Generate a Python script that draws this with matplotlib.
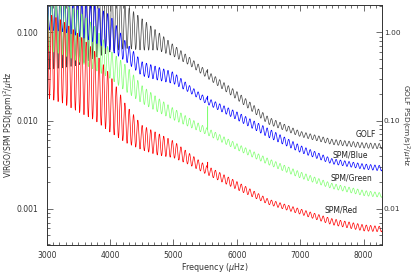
import numpy as np
import matplotlib
matplotlib.use("Agg")
import matplotlib.pyplot as plt
from matplotlib.ticker import FixedLocator, FixedFormatter, LogLocator, NullFormatter, MultipleLocator

# envelope nodes in muHz, log10 PSD (left axis units)
freq_nodes = [3000, 3250, 3500, 3750, 4000, 4250, 4500, 4750, 5000,
              5250, 5500, 6000, 6500, 7000, 7500, 8000, 8300]

golf_top = [-0.18, -0.18, -0.24, -0.29, -0.41, -0.69, -0.84, -0.99, -1.14,
            -1.28, -1.42, -1.67, -1.96, -2.12, -2.21, -2.25, -2.26]
golf_bot = [-1.42, -1.40, -1.37, -1.29, -1.22, -1.18, -1.20, -1.20, -1.27,
            -1.37, -1.50, -1.76, -2.04, -2.18, -2.27, -2.31, -2.32]

blue_top = [-0.63, -0.63, -0.67, -0.69, -0.80, -1.11, -1.33, -1.39, -1.45,
            -1.60, -1.73, -1.90, -2.09, -2.28, -2.43, -2.49, -2.51]
blue_bot = [-0.97, -0.99, -1.04, -1.11, -1.20, -1.33, -1.49, -1.54, -1.58,
            -1.68, -1.80, -1.99, -2.19, -2.36, -2.49, -2.55, -2.57]

green_top = [-0.63, -0.67, -0.75, -0.92, -1.20, -1.37, -1.60, -1.74, -1.86,
             -1.97, -2.07, -2.26, -2.43, -2.58, -2.71, -2.79, -2.82]
green_bot = [-1.20, -1.25, -1.33, -1.42, -1.52, -1.67, -1.80, -1.90, -1.99,
             -2.07, -2.15, -2.33, -2.50, -2.65, -2.77, -2.85, -2.87]

red_top = [-0.77, -0.86, -1.01, -1.20, -1.48, -1.82, -2.05, -2.14, -2.23,
           -2.37, -2.50, -2.69, -2.89, -3.00, -3.11, -3.18, -3.20]
red_bot = [-1.74, -1.80, -1.90, -1.99, -2.13, -2.25, -2.33, -2.39, -2.42,
           -2.50, -2.60, -2.78, -2.95, -3.06, -3.18, -3.25, -3.26]

spacing = 68.0        # muHz between pseudo-mode peaks
spike_freq = 5540.0   # narrow artefact line
golf_spike, blue_spike, green_spike, red_spike = -1.42, -1.72, -1.84, -2.47

labels = ["GOLF", "SPM/Blue", "SPM/Green", "SPM/Red"]
label_pos = [(8030, 0.0070), (7790, 0.0041), (7800, 0.00222), (7645, 0.00096)]

freq = np.arange(3000, 8300.1, 4.0)
phase = 0.5 + 0.5 * np.cos(2 * np.pi * (freq - 3010) / spacing)


def curve(top, bot, spike):
    hi = np.interp(freq, freq_nodes, top)
    lo = np.interp(freq, freq_nodes, bot)
    y = lo + (hi - lo) * phase
    i = np.searchsorted(freq, spike_freq)
    f = np.insert(freq, i, [spike_freq, spike_freq])
    y = np.insert(y, i, [spike, y[i]])
    return f, 10 ** y


fig = plt.figure(figsize=(4.14, 2.73), dpi=100)
ax = fig.add_axes([0.1128, 0.1026, 0.81, 0.8791])

series = [(golf_top, golf_bot, golf_spike, "#444444"),
          (blue_top, blue_bot, blue_spike, "#0000ff"),
          (green_top, green_bot, green_spike, "#80ff70"),
          (red_top, red_bot, red_spike, "#ff0000")]
for top, bot, sp, col in series:
    f, p = curve(top, bot, sp)
    ax.plot(f, p, color=col, lw=0.5)

ax.set_yscale("log")
ax.set_xlim(3000, 8290)
ax.set_ylim(0.00039, 0.205)

for name, (x, y) in zip(labels, label_pos):
    ax.text(x, y, name, fontsize=5.5, ha="center", va="center", color="#222222")

ax.xaxis.set_major_locator(MultipleLocator(1000))
ax.xaxis.set_minor_locator(MultipleLocator(100))
ax.yaxis.set_major_locator(FixedLocator([0.001, 0.01, 0.1]))
ax.yaxis.set_major_formatter(FixedFormatter(["0.001", "0.010", "0.100"]))
ax.yaxis.set_minor_locator(LogLocator(subs=np.arange(2, 10)))
ax.yaxis.set_minor_formatter(NullFormatter())
ax.tick_params(which="both", direction="in", top=True, right=False,
               width=0.5, colors="#333333", labelsize=5.5)
ax.tick_params(which="major", length=4.5)
ax.tick_params(which="minor", length=2.2)
ax.tick_params(axis="y", pad=6)
ax.tick_params(axis="x", pad=4)

ax2 = ax.twinx()
ax2.set_yscale("log")
ax2.set_ylim(0.0039, 2.05)
ax2.yaxis.set_major_locator(FixedLocator([0.01, 0.1, 1.0]))
ax2.yaxis.set_major_formatter(FixedFormatter(["0.01", "0.10", "1.00"]))
ax2.yaxis.set_minor_locator(LogLocator(subs=np.arange(2, 10)))
ax2.yaxis.set_minor_formatter(NullFormatter())
ax2.tick_params(which="both", direction="in", width=0.5, colors="#333333",
                labelsize=5.3, pad=1.2)
ax2.tick_params(which="major", length=4.5)
ax2.tick_params(which="minor", length=2.2)

for a in (ax, ax2):
    for s in a.spines.values():
        s.set_linewidth(0.6)
        s.set_color("#333333")

ax.set_xlabel(r"Frequency ($\mu$Hz)", fontsize=5.8, color="#333333")
ax.xaxis.set_label_coords(0.5, -0.065)
ax.set_ylabel(r"VIRGO/SPM PSD(ppm)$^2$/$\mu$Hz", fontsize=5.5, color="#333333",
              va="center")
ax.yaxis.set_label_coords(-0.112, 0.5)
ax2.set_ylabel(r"GOLF PSD(cm/s)$^2$/$\mu$Hz", fontsize=5.3, color="#333333",
               rotation=270, va="center")
ax2.yaxis.set_label_coords(1.068, 0.5)

fig.savefig("out.png", dpi=100)
